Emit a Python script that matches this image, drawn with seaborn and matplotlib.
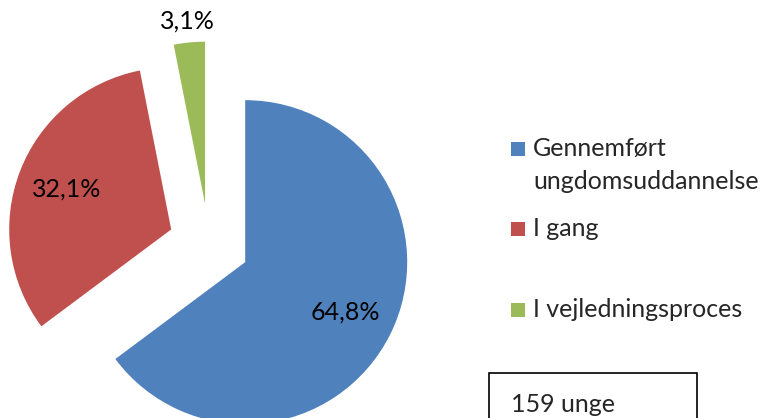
import matplotlib
matplotlib.use("Agg")
import matplotlib.pyplot as plt
import matplotlib.patches as mpatches
import numpy as np
import seaborn as sns

# Data
categories = ["Gennemført\nungdomsuddannelse", "I gang", "I vejledningsproces"]
shares = [64.8, 32.1, 3.1]
colors = ["#4F81BD", "#C0504D", "#9BBB59"]
total_label = "159 unge"

sns.set_theme(style="white")
plt.rcParams["font.family"] = ["Lato", "DejaVu Sans"]
FS = 18

W, H = 763, 418
fig = plt.figure(figsize=(W / 100, H / 100), dpi=100)
ax = fig.add_axes([0, 0, 1, 1])

# pie centre at pixel (209, 244), radius 162 px
cx, cy, r = 209, 244, 162

wedges, texts, autotexts = ax.pie(
    shares,
    colors=sns.color_palette(colors),
    explode=[0.25] * len(shares),
    startangle=90,
    counterclock=False,
    autopct=lambda p: f"{p:.1f}%".replace(".", ","),
    pctdistance=0.69,
    textprops={"fontsize": FS, "color": "black"},
    wedgeprops={"linewidth": 0},
)

# small slice: put its label outside the wedge
w = wedges[-1]
mid = np.deg2rad((w.theta1 + w.theta2) / 2)
autotexts[-1].set_position((1.38 * np.cos(mid), 1.38 * np.sin(mid)))

ax.set_xlim(-cx / r, (W - cx) / r)
ax.set_ylim((cy - H) / r, cy / r)
ax.set_aspect("equal", adjustable="datalim")
ax.axis("off")

# legend, drawn by hand to follow the original's spacing
square_base = [156, 236, 317]
line_step = 33
for lab, col, yb in zip(categories, colors, square_base):
    fig.patches.append(mpatches.Rectangle(
        (511 / W, 1 - yb / H), 14 / W, 14 / H,
        transform=fig.transFigure, facecolor=col, edgecolor="none"))
    lines = lab.split("\n")
    for i, line in enumerate(lines):
        fig.text(533 / W, 1 - (yb + i * line_step) / H, line, fontsize=FS,
                 va="baseline", ha="left")

# box with the count
fig.patches.append(mpatches.Rectangle(
    (489 / W, -0.1), (697 - 489) / W, (418 - 373) / H + 0.1,
    transform=fig.transFigure, facecolor="white", edgecolor="black",
    linewidth=1.2))
fig.text(511 / W, 1 - 412 / H, total_label, fontsize=FS, va="baseline",
         ha="left")

fig.savefig("out.png", dpi=100)
